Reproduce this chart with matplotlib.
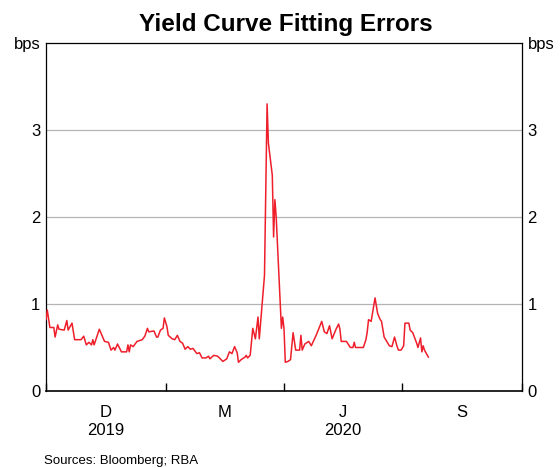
import matplotlib
matplotlib.use('Agg')
import matplotlib.pyplot as plt
import pandas as pd

# Yield curve fitting errors, bps
dates = [
    '2019-10-01', '2019-10-02', '2019-10-04', '2019-10-07', '2019-10-08', '2019-10-10',
    '2019-10-11', '2019-10-15', '2019-10-17', '2019-10-18', '2019-10-21', '2019-10-23',
    '2019-10-28', '2019-10-30', '2019-11-01', '2019-11-03', '2019-11-05', '2019-11-06',
    '2019-11-07', '2019-11-11', '2019-11-15', '2019-11-18', '2019-11-20', '2019-11-22',
    '2019-11-23', '2019-11-25', '2019-11-28', '2019-12-02', '2019-12-03', '2019-12-04',
    '2019-12-05', '2019-12-07', '2019-12-10', '2019-12-14', '2019-12-16', '2019-12-18',
    '2019-12-19', '2019-12-23', '2019-12-25', '2019-12-26', '2019-12-28', '2019-12-30',
    '2019-12-31', '2020-01-02', '2020-01-03', '2020-01-06', '2020-01-08', '2020-01-10',
    '2020-01-12', '2020-01-14', '2020-01-16', '2020-01-18', '2020-01-20', '2020-01-22',
    '2020-01-25', '2020-01-27', '2020-01-29', '2020-02-01', '2020-02-03', '2020-02-04',
    '2020-02-07', '2020-02-10', '2020-02-14', '2020-02-17', '2020-02-19', '2020-02-21',
    '2020-02-23', '2020-02-25', '2020-02-26', '2020-02-28', '2020-03-02', '2020-03-03',
    '2020-03-04', '2020-03-06', '2020-03-08', '2020-03-10', '2020-03-12', '2020-03-13',
    '2020-03-17', '2020-03-19', '2020-03-20', '2020-03-23', '2020-03-24', '2020-03-25',
    '2020-03-26', '2020-03-30', '2020-03-31', '2020-04-01', '2020-04-02', '2020-04-04',
    '2020-04-06', '2020-04-08', '2020-04-10', '2020-04-13', '2020-04-14', '2020-04-15',
    '2020-04-17', '2020-04-20', '2020-04-22', '2020-04-26', '2020-04-30', '2020-05-02',
    '2020-05-04', '2020-05-06', '2020-05-08', '2020-05-11', '2020-05-13', '2020-05-14',
    '2020-05-15', '2020-05-19', '2020-05-22', '2020-05-24', '2020-05-25', '2020-05-26',
    '2020-06-01', '2020-06-03', '2020-06-04', '2020-06-05', '2020-06-07', '2020-06-10',
    '2020-06-12', '2020-06-14', '2020-06-15', '2020-06-17', '2020-06-19', '2020-06-21',
    '2020-06-23', '2020-06-25', '2020-06-27', '2020-06-28', '2020-06-30', '2020-07-02',
    '2020-07-03', '2020-07-06', '2020-07-07', '2020-07-09', '2020-07-12', '2020-07-13',
    '2020-07-15', '2020-07-16', '2020-07-17', '2020-07-18', '2020-07-21',
]
errors = [
    0.82, 0.93, 0.73, 0.73, 0.62, 0.76,
    0.71, 0.70, 0.81, 0.70, 0.78, 0.59,
    0.59, 0.63, 0.53, 0.56, 0.53, 0.59,
    0.53, 0.71, 0.57, 0.56, 0.47, 0.50,
    0.47, 0.54, 0.45, 0.45, 0.53, 0.45,
    0.53, 0.51, 0.57, 0.59, 0.63, 0.72,
    0.68, 0.69, 0.62, 0.62, 0.70, 0.72,
    0.84, 0.74, 0.64, 0.60, 0.59, 0.64,
    0.57, 0.55, 0.48, 0.51, 0.48, 0.49,
    0.43, 0.44, 0.38, 0.38, 0.40, 0.37,
    0.41, 0.40, 0.34, 0.37, 0.45, 0.43,
    0.51, 0.44, 0.33, 0.36, 0.39, 0.41,
    0.38, 0.41, 0.72, 0.60, 0.85, 0.60,
    1.33, 3.30, 2.85, 2.48, 1.77, 2.20,
    2.00, 0.72, 0.85, 0.72, 0.33, 0.34,
    0.36, 0.67, 0.47, 0.47, 0.64, 0.47,
    0.54, 0.57, 0.52, 0.65, 0.80, 0.68,
    0.66, 0.75, 0.60, 0.71, 0.77, 0.71,
    0.57, 0.57, 0.50, 0.50, 0.56, 0.50,
    0.50, 0.59, 0.68, 0.82, 0.80, 1.07,
    0.89, 0.82, 0.80, 0.62, 0.57, 0.52,
    0.51, 0.62, 0.51, 0.47, 0.47, 0.52,
    0.78, 0.78, 0.70, 0.67, 0.55, 0.50,
    0.61, 0.45, 0.52, 0.47, 0.39,
]

quarter_edges = ['2019-10-01', '2020-01-01', '2020-04-01', '2020-07-01', '2020-10-01']
quarter_labels = ['D\n2019', 'M', 'J\n2020', 'S']
y_ticks = [0, 1, 2, 3, 4]
y_labels = ['0', '1', '2', '3', 'bps']

plt.rcParams['font.family'] = ['Liberation Sans', 'DejaVu Sans']

fig = plt.figure(figsize=(5.6, 4.68), dpi=100)
ax = fig.add_axes([46 / 560, 77 / 468, 476 / 560, 348 / 468])

x = pd.to_datetime(dates)
ax.plot(x, errors, color='#ee1f2b', lw=1.1, zorder=3)

edges = pd.to_datetime(quarter_edges)
mids = [edges[i] + (edges[i + 1] - edges[i]) / 2 for i in range(len(edges) - 1)]
ax.set_xlim(edges[0], edges[-1])
ax.set_ylim(0, 4)

ax.set_xticks(edges)
ax.set_xticklabels([])
ax.set_xticks(mids, minor=True)
ax.set_xticklabels(quarter_labels, minor=True, fontsize=12, linespacing=1.25)
ax.tick_params(axis='x', which='major', direction='in', length=6, width=1, color='black')
ax.tick_params(axis='x', which='minor', length=0, pad=10)

ax.set_yticks(y_ticks)
ax.set_yticklabels(y_labels)
ax.tick_params(axis='y', length=0, labelsize=12, labelright=True, pad=4)

for yv in [1, 2, 3]:
    ax.axhline(yv, color='#b4b4b4', lw=0.9, zorder=1)

for side in ['left', 'right', 'top']:
    ax.spines[side].set_color('black')
    ax.spines[side].set_linewidth(0.9)
ax.spines['bottom'].set_color('black')
ax.spines['bottom'].set_linewidth(1.2)

fig.text(286 / 560, 1 - 25 / 468, 'Yield Curve Fitting Errors', ha='center', va='center',
         fontsize=17.5, fontweight='bold')
fig.text(44 / 560, 1 - 461 / 468, 'Sources: Bloomberg; RBA', ha='left', va='center',
         fontsize=9.5)

fig.savefig('out.png', dpi=100)
